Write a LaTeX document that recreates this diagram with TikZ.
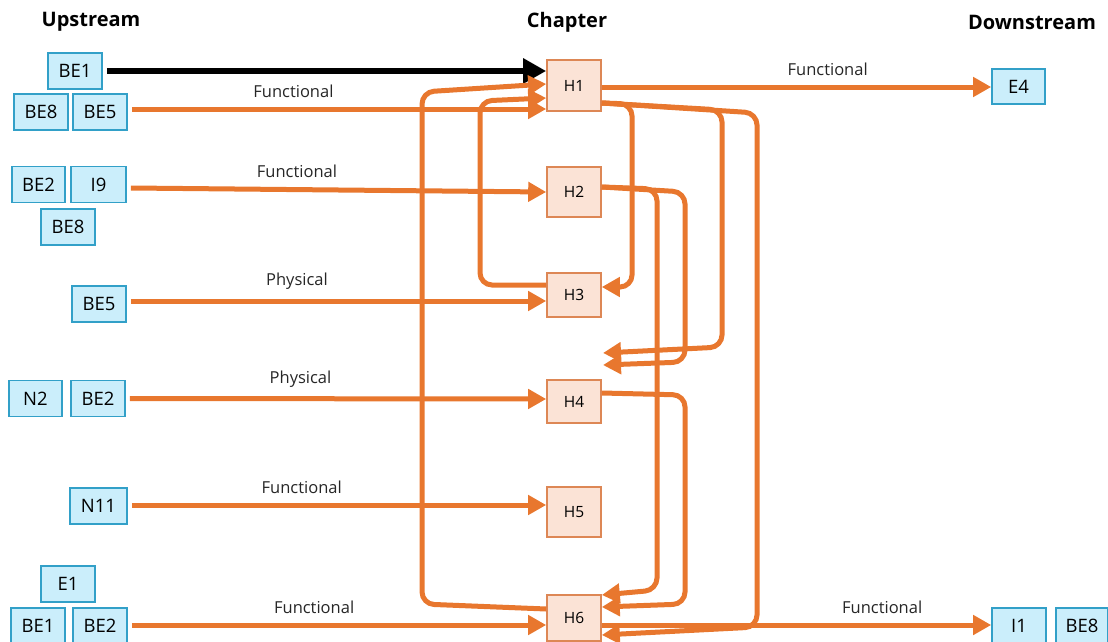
\documentclass[tikz,border=0pt]{standalone}
\usepackage{fontspec}
\setmainfont{Open Sans}
\usetikzlibrary{arrows.meta}
\definecolor{lineor}{RGB}{232,119,46}
\definecolor{hfill}{RGB}{251,227,214}
\definecolor{hdraw}{RGB}{221,135,85}
\definecolor{bfill}{RGB}{203,238,251}
\definecolor{bdraw}{RGB}{50,160,200}
\begin{document}
\begin{tikzpicture}[x=1pt,y=-1pt,
 ubox/.style={draw=bdraw, fill=bfill, line width=1.6pt, minimum width=54pt, minimum height=36pt, inner sep=0, font=\fontsize{18.5}{22}\selectfont},
 hbox/.style={draw=hdraw, fill=hfill, line width=1.6pt, minimum width=54pt, inner sep=0, font=\fontsize{15.5}{18}\selectfont},
 ttl/.style={font=\bfseries\fontsize{20}{24}\selectfont},
 oarrow/.style={draw=lineor, line width=5pt, -{Triangle[length=18pt,width=19pt]}},
 oloop/.style={oarrow, rounded corners=12pt},
 karrow/.style={draw=black, line width=6.5pt, -{Triangle[length=23pt,width=24pt]}},
 elab/.style={above, inner sep=0, yshift=9pt, font=\fontsize{16.5}{19}\selectfont, text=black!85}
]
\useasboundingbox (0,0) rectangle (1108,642);

% titles
\node[ttl] (tup) at (91,22) {Upstream};
\node[ttl] (tch) at (567,22) {Chapter};
\node[ttl] (tdn) at (1032,22) {Downstream};

% upstream boxes
\node[ubox] (BE1a) at (75,71) {BE1};
\node[ubox] (BE8a) at (41,112) {BE8};
\node[ubox] (BE5a) at (100,112) {BE5};
\node[ubox, minimum width=53pt] (BE2a) at (38.5,184.5) {BE2};
\node[ubox, minimum width=55pt] (I9) at (98.5,184.5) {I9};
\node[ubox] (BE8b) at (68,227) {BE8};
\node[ubox] (BE5b) at (99,304) {BE5};
\node[ubox, minimum width=53pt] (N2) at (35.5,398.5) {N2};
\node[ubox] (BE2b) at (98,398.5) {BE2};
\node[ubox, minimum width=57pt] (N11) at (98.5,506) {N11};
\node[ubox] (E1) at (68,584) {E1};
\node[ubox] (BE1b) at (38,626) {BE1};
\node[ubox] (BE2c) at (100,626) {BE2};

% chapter boxes
\node[hbox, minimum height=51pt] (H1) at (574,85.5) {H1};
\node[hbox, minimum height=50pt] (H2) at (574,192) {H2};
\node[hbox, minimum height=44pt] (H3) at (574,295) {H3};
\node[hbox, minimum height=43pt] (H4) at (574,401.5) {H4};
\node[hbox, minimum height=50pt] (H5) at (574,512) {H5};
\node[hbox, minimum height=46pt] (H6) at (574,618) {H6};

% downstream boxes
\node[ubox, minimum width=53pt, minimum height=35pt] (E4) at (1018.5,86.5) {E4};
\node[ubox] (I1) at (1019,626) {I1};
\node[ubox, minimum width=52pt] (BE8c) at (1082,626) {BE8};

% free ends
\coordinate (open1) at (603,353);
\coordinate (open2) at (603,365);

% straight inputs
\draw[karrow] ([xshift=4pt]BE1a.east) -- ([yshift=14.5pt]H1.west);
\draw[oarrow] ([xshift=4pt,yshift=3pt]BE5a.east) -- node[elab,pos=0.39] {Functional} ([yshift=-23.5pt]H1.west);
\draw[oarrow] ([xshift=4pt,yshift=-3.5pt]I9.east) -- node[elab,pos=0.40] {Functional} (H2.west);
\draw[oarrow] ([xshift=4pt,yshift=3pt]BE5b.east) -- node[elab,pos=0.40] {Physical} ([yshift=-6pt]H3.west);
\draw[oarrow] ([xshift=4pt]BE2b.east) -- node[elab,pos=0.41] {Physical} ([yshift=2.5pt]H4.west);
\draw[oarrow] ([xshift=4pt,yshift=1pt]N11.east) -- node[elab,pos=0.41] {Functional} ([yshift=7pt]H5.west);
\draw[oarrow] ([xshift=4pt,yshift=1pt]BE2c.east) -- node[elab,pos=0.44] {Functional} ([yshift=-7pt]H6.west);

% outputs
\draw[oarrow] ([yshift=-1.5pt]H1.east) -- node[elab,pos=0.58] {Functional} ([yshift=-0.5pt]E4.west);
\draw[oarrow] ([yshift=-7pt]H6.east) -- node[elab,pos=0.72] {Functional} ([yshift=1pt]I1.west);

% loops
\draw[oloop] ([yshift=9pt]H6.west) -- (422,604) -- (422,92) -- ([yshift=1.5pt]H1.west);
\draw[oloop] ([yshift=10pt]H3.west) -- (480,285) -- (480,101) -- ([yshift=-12.5pt]H1.west);
\draw[oloop] ([yshift=-17.5pt]H1.east) -- (632,104) -- (632,287) -- ([yshift=8pt]H3.east);
\draw[oloop] ([yshift=-17.5pt]H1.east) -- (722,110) -- (722,347) -- (open1);
\draw[oloop] ([yshift=-17.5pt]H1.east) -- (757,113) -- (757,627) -- ([yshift=-17pt]H6.east);
\draw[oloop] ([yshift=5pt]H2.east) -- (657,189) -- (657,590) -- ([yshift=23pt]H6.east);
\draw[oloop] ([yshift=5pt]H2.east) -- (685,192) -- (685,362) -- (open2);
\draw[oloop] ([yshift=8.5pt]H4.east) -- (685,395) -- (685,604) -- ([yshift=11pt]H6.east);
\end{tikzpicture}
\end{document}
